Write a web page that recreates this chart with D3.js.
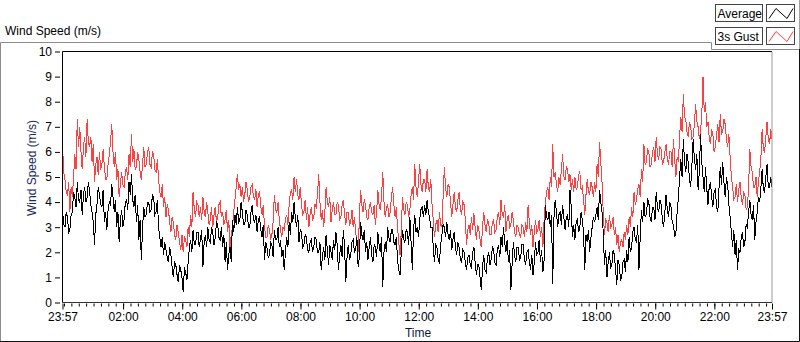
<!DOCTYPE html>
<html>
<head>
<meta charset="utf-8">
<script src="https://cdn.jsdelivr.net/npm/d3@7"></script>
<style>
  body { margin: 0; background: #fff; }
  text { font-family: "Liberation Sans", Arial, sans-serif; }
</style>
</head>
<body>
<div id="chart"></div>
<script>
// time base: one reading every 2.5 minutes, 23:57 -> 23:57 next day
const startTime = new Date(2024, 0, 1, 23, 57)
const stepMinutes = 2.5

// Average wind speed (m/s)
const avgSpeed = [
  3.7,3.1, 3.0,3.6, 3.4,2.8, 2.9,3.5, 3.6,4.4, 4.2,3.8, 4.8,4.1, 4.0,4.5, 3.5,4.3, 4.6,4.0,
  4.2,4.8, 4.4,3.9, 3.6,3.2, 2.3,3.5, 3.9,4.6, 4.3,3.9, 3.8,4.5, 3.2,3.6, 2.9,3.7, 4.0,3.9,
  4.7,4.2, 3.6,4.1, 3.0,3.6, 2.4,3.3, 3.7,3.0, 3.3,4.0, 4.1,3.7, 4.8,4.3, 5.1,4.1, 3.8,4.3,
  3.2,3.9, 2.5,3.3, 1.7,3.0, 3.8,3.4, 3.5,4.0, 4.0,3.6, 3.7,4.3, 4.2,3.5, 3.6,4.1, 3.0,2.6,
  2.2,2.6, 1.9,2.4, 2.1,1.8, 1.6,2.2, 1.9,1.4, 1.0,1.6, 1.5,1.1, 0.8,1.5, 1.3,1.0, 0.4,1.4,
  1.2,0.9, 1.6,2.2, 2.5,2.0, 2.9,2.3, 2.3,2.8, 2.8,2.2, 2.5,2.9, 1.4,2.4, 2.7,2.2, 3.0,2.5,
  2.4,3.0, 2.8,2.3, 2.6,3.2, 3.1,2.6, 2.5,3.0, 2.2,2.7, 1.6,2.4, 1.3,1.9, 2.2,1.6, 3.3,2.8,
  3.5,3.1, 3.8,3.2, 3.3,4.0, 3.6,3.1, 3.1,3.7, 3.5,3.0, 3.0,3.6, 3.9,3.3, 3.2,3.5, 2.8,3.3,
  3.4,2.9, 2.6,3.1, 1.7,2.4, 2.2,1.8, 1.9,2.4, 2.3,1.8, 2.9,2.5, 2.5,3.0, 2.2,2.5, 1.8,2.1,
  1.3,2.0, 2.6,2.2, 3.2,2.7, 3.6,3.2, 4.0,3.4, 3.0,3.5, 2.4,2.9, 2.8,2.2, 2.3,2.7, 2.6,2.1,
  2.0,2.4, 2.5,2.0, 2.2,2.6, 2.5,2.0, 2.0,2.4, 1.3,1.8, 2.2,1.7, 2.7,2.1, 1.5,2.3, 2.0,1.7,
  2.5,2.1, 2.8,2.3, 1.3,1.9, 2.3,1.8, 2.9,2.2, 0.8,1.8, 2.3,1.7, 1.9,2.4, 2.5,2.0, 2.1,2.6,
  1.4,1.8, 3.2,2.7, 2.5,2.9, 2.0,2.4, 1.7,2.2, 2.6,1.9, 1.6,2.3, 2.2,1.8, 2.8,2.3, 2.0,2.6,
  0.6,2.0, 2.4,2.0, 3.0,2.6, 2.4,2.9, 2.9,2.4, 2.3,2.6, 1.7,1.3, 1.1,2.0, 2.9,2.5, 2.4,2.9,
  2.8,2.3, 3.4,2.4, 1.3,2.9, 3.5,2.8, 3.0,2.6, 3.3,3.7, 3.8,3.4, 3.9,3.5, 4.1,3.6, 3.4,3.0,
  3.0,2.2, 1.6,2.3, 2.2,1.7, 1.6,2.3, 2.7,3.1, 3.0,2.6, 3.2,2.7, 2.5,2.9, 2.1,2.5, 2.8,2.2,
  1.9,2.4, 2.2,1.7, 1.6,2.1, 2.0,1.6, 1.3,1.8, 1.9,1.5, 1.4,2.0, 2.2,1.6, 1.1,1.5, 1.5,1.0,
  0.5,1.4, 1.9,1.3, 1.2,1.8, 2.0,1.5, 1.7,2.2, 2.1,1.6, 1.5,2.1, 2.3,1.8, 2.6,2.2, 3.0,2.4,
  2.0,2.5, 1.6,2.1, 0.5,1.5, 2.4,1.9, 1.6,2.2, 2.2,1.7, 1.8,2.3, 2.3,1.7, 1.5,2.0, 2.1,1.6,
  1.3,1.9, 1.1,1.6, 2.4,1.9, 2.0,2.5, 1.6,2.1, 1.2,1.7, 3.9,3.4, 3.3,3.6, 3.0,3.5, 0.75,3.4,
  4.1,3.6, 3.0,3.5, 3.6,3.1, 3.9,3.4, 2.9,3.4, 3.5,3.0, 4.5,3.8, 2.6,3.1, 2.5,3.2, 3.3,2.8,
  3.0,3.6, 3.3,2.8, 1.3,2.7, 2.4,2.9, 2.0,2.6, 3.0,3.4, 3.2,3.5, 3.8,3.3, 4.5,4.0, 3.6,2.8,
  1.5,2.1, 1.0,1.6, 2.0,1.4, 1.5,2.1, 1.9,1.3, 0.7,1.7, 1.5,0.9, 1.0,1.6, 1.7,1.2, 2.1,1.6,
  2.6,2.0, 2.2,2.8, 3.0,2.5, 2.4,3.1, 1.3,2.6, 3.7,3.2, 4.0,3.4, 3.5,4.1, 4.0,3.4, 3.2,3.8,
  3.8,3.3, 4.4,3.8, 3.6,4.1, 3.9,3.3, 3.0,3.6, 4.3,3.7, 3.4,4.0, 3.8,3.2, 3.1,2.6, 2.8,3.6,
  4.2,5.0, 5.7,5.0, 6.5,5.6, 5.2,5.9, 5.6,4.9, 4.6,5.5, 6.5,5.7, 5.3,5.9, 4.5,5.2, 6.7,5.6,
  5.0,4.4, 5.4,4.6, 3.9,4.6, 4.8,4.2, 3.8,4.4, 4.5,3.8, 3.6,4.6, 5.4,4.7, 5.6,4.8, 4.2,5.0,
  4.7,3.9, 3.4,2.8, 2.2,2.9, 1.9,2.5, 1.3,2.1, 2.0,2.6, 2.8,2.2, 2.4,3.1, 3.0,3.6, 4.1,3.5,
  3.3,3.9, 2.5,3.2, 3.6,4.2, 4.0,4.6, 5.3,4.5, 4.4,5.0, 5.5,4.6, 4.6,5.0, 4.6
]

// 3 second gust (m/s)
const gustSpeed = [
  6.3,5.2, 4.9,4.4, 4.3,4.8, 3.6,4.6, 4.2,5.0, 5.9,5.3, 7.3,6.2, 7.0,6.0, 5.3,6.2, 6.6,5.8,
  7.3,6.4, 6.2,6.6, 5.6,6.3, 4.8,5.5, 5.8,5.1, 6.0,5.3, 5.5,6.1, 5.4,4.9, 4.9,5.5, 5.9,6.4,
  7.1,6.0, 5.4,6.0, 4.9,5.3, 4.2,4.7, 5.2,4.7, 4.6,5.2, 5.4,4.9, 5.9,5.4, 6.7,5.6, 6.1,5.3,
  5.4,6.0, 5.7,5.2, 4.9,5.5, 6.2,5.4, 5.5,6.0, 6.2,5.5, 5.4,6.0, 5.9,5.3, 5.2,5.7, 4.9,4.4,
  4.2,4.7, 3.8,4.2, 3.4,3.9, 3.7,3.2, 2.8,3.4, 3.2,2.7, 2.5,3.1, 2.8,2.4, 2.1,2.7, 2.0,2.6,
  2.5,2.2, 3.0,2.6, 3.5,3.0, 4.4,3.7, 3.4,4.0, 3.9,3.4, 3.8,3.3, 4.2,3.6, 3.4,4.0, 3.6,3.1,
  3.3,3.8, 3.0,3.5, 3.8,3.2, 3.4,3.9, 4.0,3.4, 3.6,3.1, 3.3,3.7, 2.8,3.3, 2.2,2.7, 3.0,3.6,
  4.1,4.6, 5.1,4.5, 4.7,4.2, 4.6,4.0, 4.3,4.8, 4.5,4.0, 4.2,4.6, 4.7,4.2, 4.1,4.5, 3.8,4.3,
  4.4,3.8, 3.5,3.9, 3.0,2.6, 2.6,3.1, 2.9,2.5, 2.7,3.2, 4.3,3.7, 3.6,4.0, 3.3,2.9, 2.6,3.0,
  2.9,3.3, 3.5,3.1, 3.9,4.4, 4.5,4.1, 5.0,4.4, 4.9,4.3, 4.1,4.6, 3.9,3.5, 3.6,4.1, 3.3,3.8,
  3.0,3.5, 3.8,3.3, 3.4,3.9, 3.8,4.3, 5.1,4.0, 3.3,3.7, 3.0,3.6, 4.6,4.0, 3.8,4.2, 3.2,3.7,
  4.0,3.5, 3.5,4.0, 3.9,3.3, 3.4,3.9, 4.1,3.5, 3.1,3.6, 3.6,3.1, 3.2,3.7, 3.0,3.4, 2.8,2.4,
  2.0,3.3, 4.5,3.9, 3.6,4.1, 3.9,3.4, 3.3,3.8, 4.0,3.6, 3.5,3.9, 3.1,3.6, 4.5,3.9, 3.7,4.2,
  5.2,4.0, 3.4,3.8, 3.9,3.4, 3.6,4.2, 4.6,3.9, 3.4,3.8, 3.0,2.4, 1.9,2.8, 4.2,3.7, 3.5,4.0,
  3.9,3.4, 3.7,4.3, 4.6,4.1, 5.5,4.6, 4.2,4.8, 5.5,4.7, 4.4,4.9, 4.9,4.4, 5.3,4.6, 4.4,4.9,
  3.9,3.3, 2.6,3.1, 3.3,2.8, 3.6,3.1, 3.0,4.2, 5.4,4.6, 4.2,4.7, 4.6,4.0, 3.4,3.9, 4.4,3.8,
  3.6,4.1, 4.4,3.7, 3.5,4.0, 3.9,3.3, 2.3,2.9, 3.1,2.7, 3.4,2.9, 3.55,3.0, 2.5,3.1, 2.9,2.5,
  2.2,3.0, 3.6,3.1, 2.8,3.3, 3.2,2.7, 2.7,3.2, 3.3,2.8, 2.9,3.4, 3.6,3.1, 4.1,3.5, 3.4,3.9,
  2.8,3.3, 3.5,3.0, 3.1,3.6, 3.3,2.8, 2.6,3.1, 3.0,2.7, 2.6,3.1, 3.0,2.6, 3.2,2.8, 3.9,3.2,
  2.7,3.1, 2.2,2.8, 3.3,2.8, 2.9,3.3, 2.6,3.0, 2.2,3.3, 4.0,4.4, 4.6,4.1, 5.0,4.6, 6.3,5.0,
  5.2,4.7, 4.4,5.0, 4.7,5.3, 5.9,5.0, 4.9,5.4, 5.3,4.8, 5.1,4.5, 4.9,4.4, 5.0,4.5, 4.6,5.1,
  5.2,4.5, 4.6,4.1, 3.5,4.3, 4.9,4.4, 4.3,4.8, 4.6,4.2, 4.8,4.4, 5.5,5.0, 6.4,5.6, 4.8,3.6,
  2.7,3.3, 3.2,2.8, 3.5,3.0, 3.1,3.4, 2.7,3.0, 2.3,2.7, 2.0,2.4, 2.5,2.2, 2.8,2.5, 3.1,2.7,
  3.4,3.0, 3.8,3.4, 4.4,3.9, 4.1,4.5, 4.7,4.2, 5.3,4.8, 6.3,5.5, 5.6,6.1, 6.0,5.4, 5.5,6.0,
  6.2,5.6, 6.6,5.9, 5.7,6.2, 6.1,5.5, 5.6,6.0, 6.3,5.7, 5.5,6.0, 6.0,5.4, 6.5,5.7, 5.0,5.8,
  5.6,6.6, 7.4,6.8, 8.3,7.4, 7.3,6.8, 6.6,7.2, 7.0,6.5, 6.6,7.1, 7.9,7.2, 7.0,6.5, 6.8,7.5,
  9.0,7.6, 8.0,7.0, 7.2,6.6, 6.3,6.9, 6.7,6.0, 6.2,6.7, 7.1,6.4, 7.5,6.7, 6.8,7.3, 7.1,6.5,
  6.2,6.7, 5.8,5.0, 4.6,4.1, 4.2,4.7, 4.0,4.5, 4.8,4.2, 3.9,4.4, 4.3,3.7, 3.8,4.6, 6.1,5.4,
  5.2,4.6, 4.6,5.0, 4.2,4.8, 5.2,5.8, 6.9,6.1, 6.0,6.6, 7.2,6.5, 6.3,6.9, 6.5
]

const yTicks = [0, 1, 2, 3, 4, 5, 6, 7, 8, 9, 10]
const seriesNames = ['Average', '3s Gust']
const seriesColors = ['#000000', '#ff4040']

const width = 800
const height = 342
const plot = { left: 62.5, right: 772, top: 51.5, bottom: 302.5 }

const endTime = d3.timeMinute.offset(startTime, 24 * 60)
const toRows = vals => vals.map((v, i) => ({ t: new Date(+startTime + i * stepMinutes * 60000), v: v }))
const avgData = toRows(avgSpeed)
const gustData = toRows(gustSpeed)

const svg = d3.select('#chart').append('svg')
  .attr('width', width).attr('height', height)

// frame around the graph
const frame = svg.append('g').attr('fill', 'none')
frame.append('path').attr('d', 'M0.5,42.5H711.5V49.5H800').attr('stroke', '#8c8c8c')
frame.append('path').attr('d', 'M0.5,42.5V341.5').attr('stroke', '#8c8c8c')
frame.append('path').attr('d', 'M799.5,0V49').attr('stroke', '#a0a0a0')
frame.append('path').attr('d', 'M799.5,49V341.5H0').attr('stroke', '#111')

svg.append('text').attr('x', 5).attr('y', 35)
  .style('font-size', '12px').attr('fill', '#000')
  .text('Wind Speed (m/s)')

// scales
const x = d3.scaleTime().domain([startTime, endTime]).range([plot.left, plot.right])
const y = d3.scaleLinear().domain([0, 10]).range([plot.bottom, plot.top])

// series: gust behind, average in front (aliased like the original)
const line = d3.line().x(d => x(d.t)).y(d => y(d.v))
svg.append('path').datum(gustData)
  .attr('d', line).attr('fill', 'none')
  .attr('stroke', seriesColors[1]).attr('stroke-width', 1)
  .attr('shape-rendering', 'crispEdges')
svg.append('path').datum(avgData)
  .attr('d', line).attr('fill', 'none')
  .attr('stroke', seriesColors[0]).attr('stroke-width', 1)
  .attr('shape-rendering', 'crispEdges')

// plot border: dark top/left, grey right, axis line at bottom
svg.append('path').attr('fill', 'none').attr('stroke', '#000')
  .attr('d', `M${plot.left},${plot.bottom}V${plot.top}H${plot.right}`)
svg.append('path').attr('fill', 'none').attr('stroke', '#999')
  .attr('d', `M${plot.right},${plot.top}V${plot.bottom}`)
svg.append('path').attr('fill', 'none').attr('stroke', '#333')
  .attr('d', `M${plot.left},${plot.bottom}H${plot.right}`)

// y axis
const yAxis = d3.axisLeft(y).tickValues(yTicks).tickSize(5).tickPadding(3)
const yAxisG = svg.append('g').attr('transform', 'translate(60,0)').call(yAxis)
yAxisG.select('.domain').remove()
yAxisG.selectAll('text').style('font-size', '12px').attr('fill', '#000')
yAxisG.selectAll('line').attr('stroke', '#000')

svg.append('text')
  .attr('transform', `translate(36,${(plot.top + plot.bottom) / 2 - 9}) rotate(-90)`)
  .attr('text-anchor', 'middle')
  .style('font-size', '12px').attr('fill', '#1a2a5a')
  .text('Wind Speed (m/s)')

// x axis: minor ticks every 15 min, labelled ticks every 2 hours plus both ends
const minorTimes = d3.timeMinute.every(15).range(startTime, endTime)
const majorTimes = [startTime]
  .concat(d3.timeHour.every(2).range(d3.timeMinute.offset(startTime, 4), endTime))
  .concat([endTime])

const xMinor = d3.axisBottom(x).tickValues(minorTimes).tickSize(3).tickFormat('')
const xMinorG = svg.append('g').attr('transform', `translate(0,${plot.bottom + 1})`).call(xMinor)
xMinorG.select('.domain').remove()

const xMajor = d3.axisBottom(x).tickValues(majorTimes).tickSize(6).tickPadding(3)
  .tickFormat(d3.timeFormat('%H:%M'))
const xMajorG = svg.append('g').attr('transform', `translate(0,${plot.bottom + 1})`).call(xMajor)
xMajorG.select('.domain').remove()
xMajorG.selectAll('text').style('font-size', '12px').attr('fill', '#000')

svg.append('text').attr('x', 418).attr('y', 337)
  .attr('text-anchor', 'middle')
  .style('font-size', '12px').attr('fill', '#10183a')
  .text('Time')

// legend
const legend = svg.append('g')
seriesNames.forEach((name, i) => {
  const top = 4.5 + i * 23
  const row = legend.append('g').attr('transform', `translate(0,${top})`)
  row.append('rect').attr('x', 715.5).attr('y', 0).attr('width', 47).attr('height', 17)
    .attr('fill', '#fff').attr('stroke', '#444')
  row.append('text').attr('x', 717.5).attr('y', 13)
    .style('font-size', '12px').attr('fill', '#000').text(name)
  row.append('rect').attr('x', 766.5).attr('y', 0).attr('width', 28).attr('height', 17)
    .attr('fill', '#fff').attr('stroke', '#444')
  row.append('path').attr('fill', 'none').attr('stroke', seriesColors[i])
    .attr('d', 'M769,14L776,4L787,14L793,4')
})
</script>
</body>
</html>
